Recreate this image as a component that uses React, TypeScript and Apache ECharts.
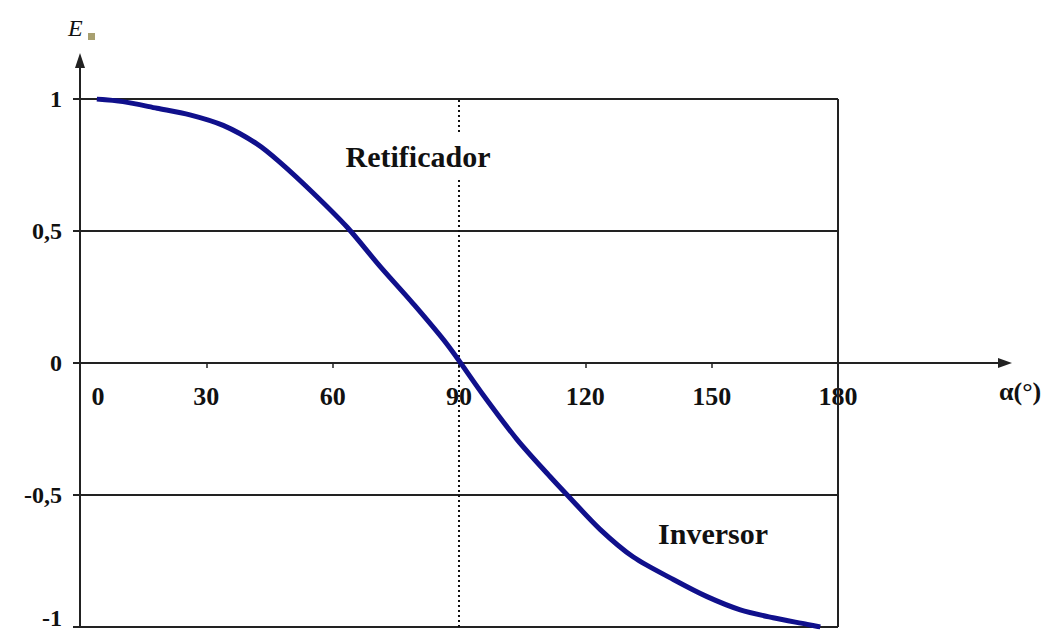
import React, { useEffect, useRef } from "react";
import * as echarts from "echarts";

// Firing angle α (degrees) and normalized output voltage En
const alphaDeg = [4, 10.2, 18.3, 26.1, 34, 42, 47.5, 55.3, 63.4, 71.3, 79.1, 87.2, 95.7, 103.8, 111.6, 115.7, 123.5, 131.4, 140.9, 148.9, 156.8, 164.6, 172.7, 175.8];
const enValues = [1, 0.99, 0.965, 0.94, 0.9, 0.83, 0.76, 0.645, 0.515, 0.365, 0.225, 0.07, -0.12, -0.29, -0.43, -0.5, -0.63, -0.735, -0.82, -0.885, -0.935, -0.965, -0.99, -1];

const xTicks = [0, 30, 60, 90, 120, 150, 180];
const yTicks = [-1, -0.5, 0, 0.5, 1];
const regionLabels = ["Retificador", "Inversor"];
const markX = [90, 180];

const FONT = "'Liberation Serif', 'DejaVu Serif', serif";

export default function App() {
  const ref = useRef<HTMLDivElement>(null);
  useEffect(() => {
    document.body.style.margin = "0";
    const chart = echarts.init(ref.current!, undefined, { renderer: "svg" });
    const data = alphaDeg.map((a, i) => [a, enValues[i]]);
    const xMin = xTicks[0];
    const xMax = xTicks[xTicks.length - 1];
    const labelFont = { fontFamily: FONT, fontWeight: "bold", color: "#111" };
    chart.setOption({
      animation: false,
      backgroundColor: "#ffffff",
      grid: [
        { left: 80, right: 214, top: 99, bottom: 6, containLabel: false, outerBoundsMode: "none" },
        // upper half grid: its bottom edge sits on the zero line, used only to place the x tick labels there
        { left: 80, right: 214, top: 99, bottom: 270, containLabel: false, outerBoundsMode: "none" },
      ],
      xAxis: [
        {
          type: "value",
          gridIndex: 0,
          min: xMin,
          max: xMax,
          interval: 30,
          axisLine: { onZero: true, lineStyle: { color: "#222", width: 2 } },
          axisTick: { show: true, length: 5, lineStyle: { color: "#222", width: 1.5 } },
          splitLine: { show: false },
          axisLabel: { show: false },
        },
        {
          type: "value",
          gridIndex: 1,
          min: xMin,
          max: xMax,
          interval: 30,
          axisLine: { show: false },
          axisTick: { show: false },
          splitLine: { show: false },
          axisLabel: {
            margin: 20,
            ...labelFont,
            fontSize: 26,
            showMinLabel: true,
            showMaxLabel: true,
            formatter: (v: number) => (v === 0 ? "{z|0}" : String(v)),
            rich: {
              z: { ...labelFont, fontSize: 26, padding: [0, 0, 0, 36] },
            },
          },
        },
      ],
      yAxis: [
        {
          type: "value",
          gridIndex: 0,
          min: yTicks[0],
          max: yTicks[yTicks.length - 1],
          interval: 0.5,
          axisLine: { show: true, lineStyle: { color: "#222", width: 2 } },
          axisTick: { show: true, length: 7, lineStyle: { color: "#222", width: 2 } },
          splitLine: { show: true, lineStyle: { color: "#222", width: 2 } },
          axisLabel: {
            margin: 18,
            ...labelFont,
            fontSize: 24,
            formatter: (v: number) => {
              const s = String(v).replace(".", ",");
              return v === yTicks[0] ? `{m|${s}}` : s;
            },
            rich: {
              m: { ...labelFont, fontSize: 24, padding: [0, 0, 18, 0] },
            },
          },
        },
        {
          type: "value",
          gridIndex: 1,
          min: 0,
          max: 1,
          show: false,
        },
      ],
      series: [
        {
          type: "line",
          xAxisIndex: 0,
          yAxisIndex: 0,
          data,
          smooth: 0.3,
          showSymbol: false,
          symbol: "none",
          lineStyle: { color: "#10108c", width: 5 },
          z: 5,
          markLine: {
            silent: true,
            symbol: "none",
            label: { show: false },
            z: 3,
            data: [
              { xAxis: markX[0], lineStyle: { color: "#111", width: 2, type: [2, 3] } },
              { xAxis: markX[1], lineStyle: { color: "#222", width: 2, type: "solid" } },
            ],
          },
        },
      ],
      graphic: [
        { type: "line", z: 50, shape: { x1: 80, y1: 100, x2: 80, y2: 64 }, style: { stroke: "#222", lineWidth: 2 } },
        { type: "polygon", z: 50, shape: { points: [[80, 53], [75, 68], [85, 68]] }, style: { fill: "#222" } },
        { type: "line", z: 50, shape: { x1: 838, y1: 363, x2: 1002, y2: 363 }, style: { stroke: "#222", lineWidth: 2 } },
        { type: "polygon", z: 50, shape: { points: [[1012, 363], [998, 358], [998, 368]] }, style: { fill: "#222" } },
        {
          type: "text", z: 50, x: 68, y: 16,
          style: { text: "E", font: `italic 24px ${FONT}`, fill: "#111" },
        },
        { type: "rect", z: 50, shape: { x: 88, y: 33, width: 7, height: 7 }, style: { fill: "#a8a070" } },
        {
          type: "text", z: 50, x: 999, y: 378,
          style: { text: "α(°)", font: `bold 26px ${FONT}`, fill: "#111" },
        },
        {
          type: "text", z: 100, x: 418, y: 156,
          style: {
            text: regionLabels[0], font: `bold 30px ${FONT}`, fill: "#111",
            align: "center", verticalAlign: "middle",
            backgroundColor: "#ffffff", padding: [6, 4, 6, 4],
          },
        },
        {
          type: "text", z: 100, x: 713, y: 533,
          style: {
            text: regionLabels[1], font: `bold 30px ${FONT}`, fill: "#111",
            align: "center", verticalAlign: "middle",
          },
        },
      ],
    });
    return () => chart.dispose();
  }, []);
  return <div ref={ref} style={{ position: "fixed", left: 0, top: 0, width: 1052, height: 633 }} />;
}
